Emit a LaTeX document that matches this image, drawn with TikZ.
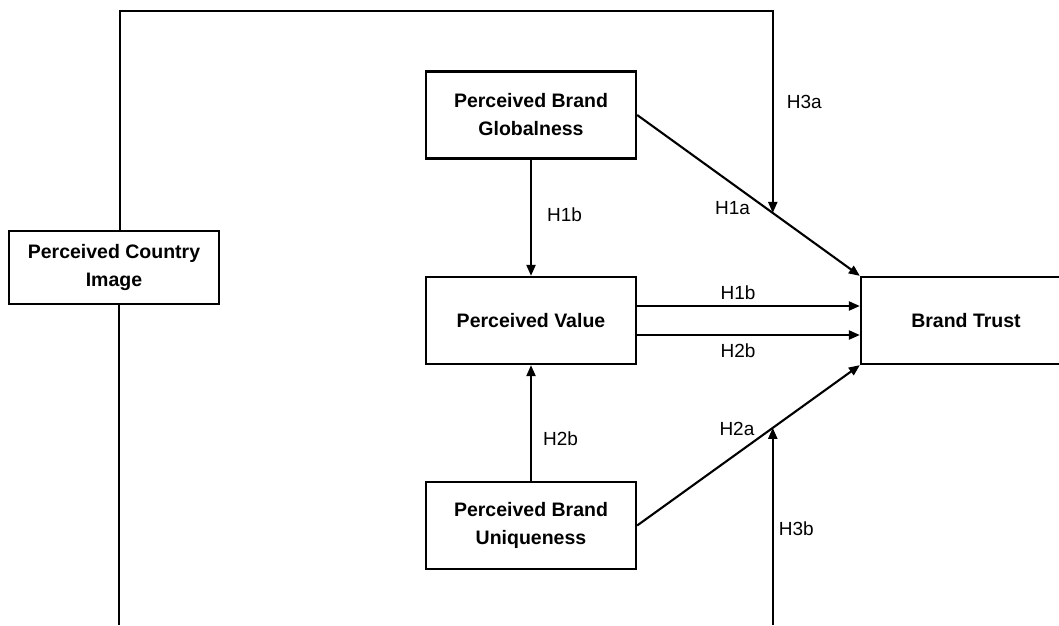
\documentclass[tikz,border=0pt]{standalone}
\usepackage{fontspec}
\setmainfont{Liberation Sans}
\usetikzlibrary{arrows.meta}
\usetikzlibrary{calc}
\usetikzlibrary{positioning}

\begin{document}
\begin{tikzpicture}[x=1pt, y=1pt,
        box_style/.style={rectangle,draw=black,line width=2.3pt,minimum width=210pt,minimum height=87pt,align=center,font=\fontsize{19.5}{28}\selectfont\bfseries},
        edge_style/.style={draw=black,line width=2.1pt,-{Triangle[length=11pt,width=9pt]}},
        line_style/.style={draw=black,line width=2.1pt},
        label_style/.style={font=\fontsize{19}{22}\selectfont,inner sep=2pt}]

        \useasboundingbox (0,0) rectangle (1059,625);

        \node [box_style,minimum height=73pt](pci) at (114,357.5) {Perceived Country\\Image};

        \node [box_style](pbg) at (531,510) {Perceived Brand\\Globalness};

        \node [box_style](pv) at (531,304.5) {Perceived Value};

        \node [box_style](pbu) at (531,99.5) {Perceived Brand\\Uniqueness};

        \node [box_style](bt) at (966,304.5) {Brand Trust};

        \coordinate (m1) at ($(pbg.east)!0.609!(bt.north west)$);
        \coordinate (m2) at ($(pbu.east)!0.609!(bt.south west)$);
        \coordinate (top_left) at (120,614);
        \coordinate (top_right) at (m1 |- top_left);
        \coordinate (bottom_left) at (119,0);
        \coordinate (bottom_right) at (m2 |- bottom_left);
        \coordinate (v1) at ([yshift=14.5pt]pv.east);
        \coordinate (v2) at ([yshift=-14.5pt]pv.east);

        \draw [edge_style] (pbg.east) -- node[label_style,pos=0.52,anchor=north east]{H1a} (bt.north west);

        \draw [edge_style] (pbu.east) -- node[label_style,pos=0.54,anchor=south east]{H2a} (bt.south west);

        \draw [edge_style] (pbg) -- node[label_style,pos=0.47,right=13pt]{H1b} (pv);

        \draw [edge_style] (pbu) -- node[label_style,pos=0.36,right=9pt]{H2b} (pv);

        \draw [edge_style] (v1) -- node[label_style,pos=0.453,above=3pt]{H1b} (v1 -| bt.west);

        \draw [edge_style] (v2) -- node[label_style,pos=0.453,below=6pt]{H2b} (v2 -| bt.west);

        \draw [edge_style] (top_left |- pci.north) -- (top_left) -- (top_right) -- node[label_style,pos=0.45,right=11pt]{H3a} (m1);

        \draw [edge_style] (bottom_right) -- node[label_style,pos=0.49,right=3pt]{H3b} (m2);

        \draw [line_style] (bottom_left |- pci.south) -- (bottom_left);

        \end{tikzpicture}
\end{document}
